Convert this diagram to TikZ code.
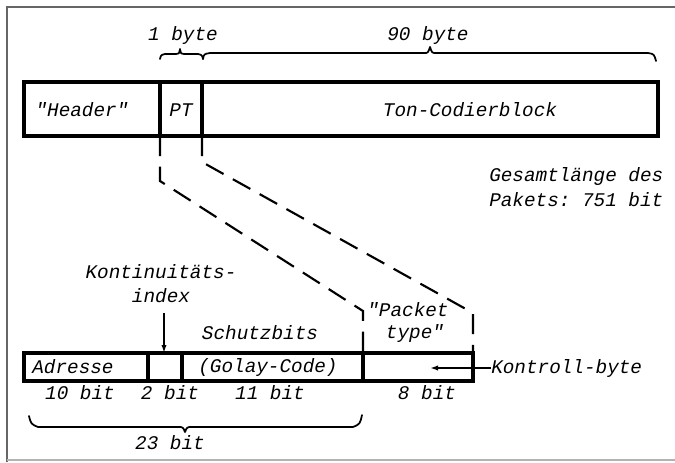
\documentclass[tikz,border=0pt]{standalone}
\usepackage{fontspec}
\setmonofont{Liberation Mono}
\usetikzlibrary{arrows.meta}
\begin{document}
\begin{tikzpicture}[x=0.75pt,y=-0.75pt,
  lbl/.style={font=\fontsize{14.5}{17}\selectfont\ttfamily\itshape, inner sep=0pt},
  cell/.style={line width=2.3pt},
  conn/.style={line width=1.6pt, dash pattern=on 15pt off 8pt},
  brc/.style={line width=1.3pt, line cap=round, line join=round},
  arr/.style={line width=1.2pt, -{Latex[length=6pt,width=4pt]}},
  frame/.style={line width=1.5pt, draw=black!60}]
\useasboundingbox (0,0) rectangle (675,462);
% frame
\draw[frame] (675,7) -- (7,7) -- (7,462);
\draw[frame, draw=black!30] (7,460) -- (675,460);
% top packet
\draw[cell] (24,82) rectangle (658,136);
\draw[cell] (160,82) -- (160,136);
\draw[cell] (202,82) -- (202,136);
\node[lbl] (hdr) at (82,110) {"Header"};
\node[lbl] (pt) at (181,110) {PT};
\node[lbl] (ton) at (470,110) {Ton-Codierblock};
% braces top
\draw[brc] (160,59) .. controls (161,55) .. (165,54) -- (176,54) .. controls (179,54) .. (180,49) .. controls (181,54) .. (184,54) -- (198,54) .. controls (202,55) .. (203,59);
\draw[brc] (203,59) .. controls (204,54) .. (210,53) -- (424,53) .. controls (428,53) .. (430,47) .. controls (432,53) .. (436,53) -- (648,53) .. controls (654,54) .. (656,61);
\node[lbl] (oneb) at (183,35) {1 byte};
\node[lbl] (ninetyb) at (428,35) {90 byte};
% total length
\node[lbl, anchor=west] (ges1) at (489,176) {Gesamtlänge des};
\node[lbl, anchor=west] (ges2) at (489,200) {Pakets: 751 bit};
% dashed connectors
\coordinate (a1) at (160,136);
\coordinate (a2) at (160,181);
\coordinate (a3) at (363,311);
\coordinate (a4) at (363,353);
\coordinate (b1) at (202,136);
\coordinate (b2) at (202,162);
\coordinate (b3) at (473,313);
\coordinate (b4) at (473,353);
\draw[conn] (a1) -- (a2) -- (a3) -- (a4);
\draw[conn] (b1) -- (b2) -- (b3) -- (b4);
% bottom packet
\draw[cell] (24,353) rectangle (473,381);
\draw[cell] (148,353) -- (148,381);
\draw[cell] (182,353) -- (182,381);
\draw[cell] (363,353) -- (363,381);
\node[lbl] (adr) at (73,367) {Adresse};
\node[lbl] (gol) at (268,367) {(Golay-Code)};
\node[lbl] (sch) at (260,333) {Schutzbits};
\node[lbl] (pk1) at (408,310) {"Packet};
\node[lbl] (pk2) at (415,333) {type"};
\node[lbl] (ki1) at (161,272) {Kontinuitäts-};
\node[lbl] (ki2) at (161,296) {index};
\coordinate (kistart) at (164,313);
\coordinate (kiend) at (164,353);
\draw[arr] (kistart) -- (kiend);
\node[lbl, anchor=west] (kb) at (491,368) {Kontroll-byte};
\coordinate (kbend) at (430,368);
\draw[arr] (kb.west) -- (kbend);
\node[lbl] (b10) at (80,393) {10 bit};
\node[lbl] (b2b) at (170,393) {2 bit};
\node[lbl] (b11) at (270,393) {11 bit};
\node[lbl] (b8) at (427,393) {8 bit};
\draw[brc] (29,416) .. controls (31,424) .. (38,427) -- (178,427) .. controls (183,427) .. (185,432) .. controls (187,427) .. (192,427) -- (353,427) .. controls (360,424) .. (362,415);
\node[lbl] (b23) at (170,443) {23 bit};
\end{tikzpicture}
\end{document}
